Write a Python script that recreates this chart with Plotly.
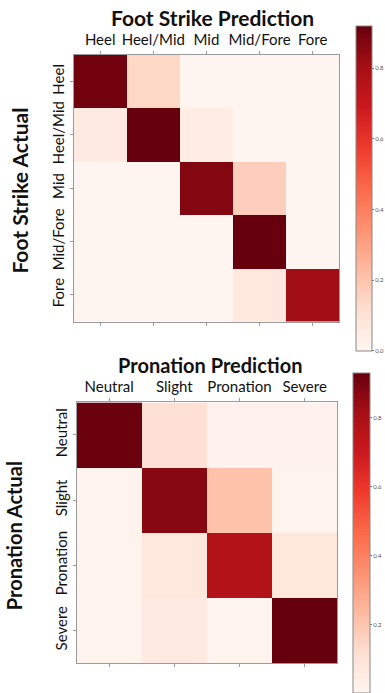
import plotly.graph_objects as go

foot_labels = ["Heel", "Heel/Mid", "Mid", "Mid/Fore", "Fore"]
foot_values = [
    [0.90, 0.14, 0.00, 0.00, 0.00],
    [0.06, 0.92, 0.05, 0.00, 0.00],
    [0.00, 0.00, 0.87, 0.17, 0.00],
    [0.00, 0.00, 0.00, 0.92, 0.00],
    [0.00, 0.00, 0.00, 0.07, 0.81],
]

pron_labels = ["Neutral", "Slight", "Pronation", "Severe"]
pron_values = [
    [0.92, 0.11, 0.02, 0.02],
    [0.01, 0.87, 0.21, 0.01],
    [0.01, 0.07, 0.77, 0.08],
    [0.01, 0.06, 0.01, 0.93],
]

W, H = 385, 693
FONT = "Lato"

def px_x(x):
    return x / W

def px_y(y):
    return (H - y) / H

fig = go.Figure()
fig.add_trace(go.Heatmap(z=foot_values, x=foot_labels, y=foot_labels,
                         coloraxis="coloraxis", xaxis="x", yaxis="y"))
fig.add_trace(go.Heatmap(z=pron_values, x=pron_labels, y=pron_labels,
                         coloraxis="coloraxis2", xaxis="x2", yaxis="y2"))

axis_common = dict(showline=True, linecolor="#9a9a9a", linewidth=1,
                   ticks="outside", ticklen=3, tickcolor="#9a9a9a",
                   showgrid=False, zeroline=False, fixedrange=True,
                   tickfont=dict(family=FONT, size=15, color="#111"))

fmax = max(max(r) for r in foot_values)
pmax = max(max(r) for r in pron_values)

cb_common = dict(thicknessmode="pixels", lenmode="pixels",
                 xanchor="left", yanchor="middle", outlinecolor="#888",
                 outlinewidth=1, ticks="outside", ticklen=2, tickcolor="#777",
                 xpad=0, ypad=0,
                 tickvals=[0, 0.2, 0.4, 0.6, 0.8], tickformat=".1f",
                 tickfont=dict(family=FONT, size=6, color="#555"))

fig.update_layout(
    width=W, height=H,
    margin=dict(l=0, r=0, t=0, b=0),
    paper_bgcolor="white", plot_bgcolor="white",
    showlegend=False,
    xaxis=dict(domain=[px_x(74), px_x(341)], anchor="y", side="top",
               mirror="ticks", **axis_common),
    yaxis=dict(domain=[px_y(322), px_y(55)], anchor="x", autorange="reversed",
               tickangle=-90, mirror=True, **axis_common),
    xaxis2=dict(domain=[px_x(77), px_x(339)], anchor="y2", side="top",
                mirror="ticks", **axis_common),
    yaxis2=dict(domain=[px_y(664), px_y(403)], anchor="x2", autorange="reversed",
                tickangle=-90, mirror=True, **axis_common),
    coloraxis=dict(colorscale="Reds", cmin=0, cmax=fmax,
                   colorbar=dict(x=px_x(358), y=px_y(188.5), len=325,
                                 thickness=16, **cb_common)),
    coloraxis2=dict(colorscale="Reds", cmin=0, cmax=pmax,
                    colorbar=dict(x=px_x(355), y=px_y(534), len=320,
                                  thickness=17, **cb_common)),
    annotations=[
        dict(text="<b>Foot Strike Prediction</b>", x=px_x(214), y=px_y(18),
             xref="paper", yref="paper", showarrow=False, xanchor="center",
             yanchor="middle", font=dict(family=FONT, size=21, color="#111")),
        dict(text="<b>Pronation Prediction</b>", x=px_x(211), y=px_y(366),
             xref="paper", yref="paper", showarrow=False, xanchor="center",
             yanchor="middle", font=dict(family=FONT, size=20, color="#111")),
        dict(text="<b>Foot Strike Actual</b>", x=px_x(20), y=px_y(191),
             xref="paper", yref="paper", showarrow=False, xanchor="center",
             yanchor="middle", textangle=-90,
             font=dict(family=FONT, size=21, color="#111")),
        dict(text="<b>Pronation Actual</b>", x=px_x(14), y=px_y(536),
             xref="paper", yref="paper", showarrow=False, xanchor="center",
             yanchor="middle", textangle=-90,
             font=dict(family=FONT, size=20, color="#111")),
    ],
)

fig.write_html("out.html", config={"displayModeBar": False},
               post_script="document.body.style.margin='0';document.body.style.padding='0';")
